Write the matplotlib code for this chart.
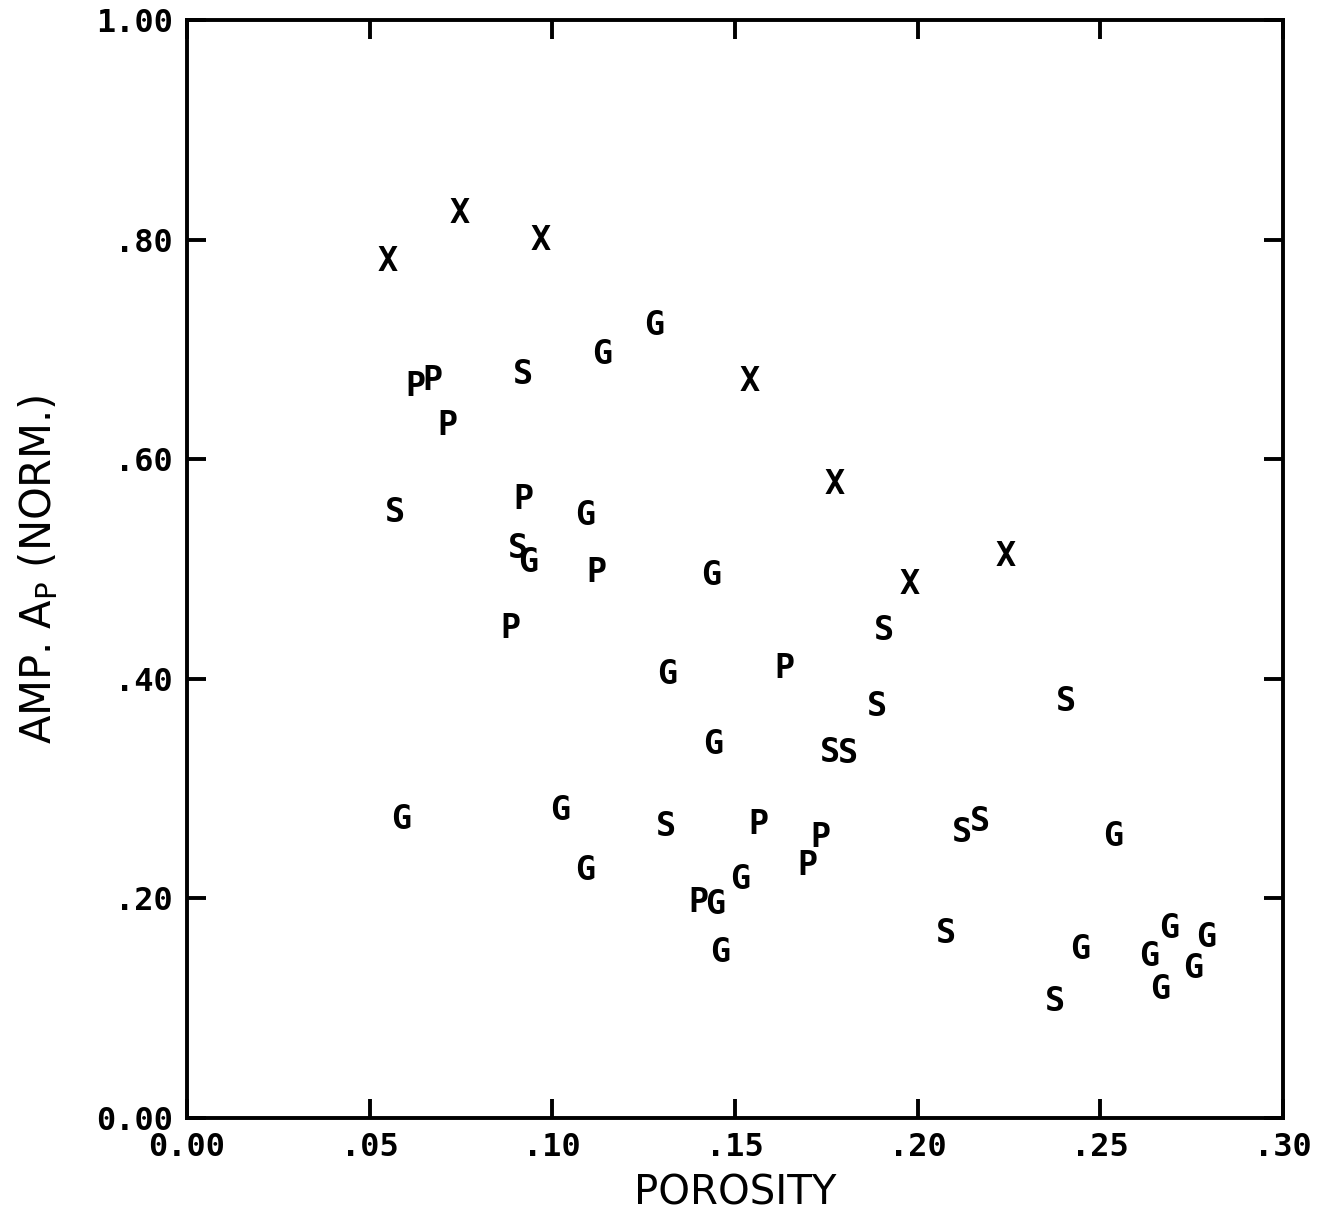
import matplotlib
matplotlib.use("Agg")
import matplotlib.pyplot as plt

# porosity / normalized amplitude, one pair of lists per sample class
x_X = [0.0548, 0.0745, 0.0969, 0.1541, 0.1774, 0.1979, 0.2242]
y_X = [0.780, 0.824, 0.799, 0.671, 0.577, 0.486, 0.511]

x_P = [0.0624, 0.0673, 0.0714, 0.0920, 0.1122, 0.0884, 0.1634, 0.1563, 0.1733, 0.1697, 0.1399]
y_P = [0.666, 0.672, 0.631, 0.563, 0.497, 0.446, 0.409, 0.267, 0.255, 0.230, 0.196]

x_S = [0.0920, 0.0569, 0.0906, 0.1311, 0.1908, 0.1889, 0.1760, 0.1809, 0.2122, 0.2171,
       0.2078, 0.2406, 0.2376]
y_S = [0.677, 0.551, 0.519, 0.265, 0.444, 0.375, 0.333, 0.332, 0.260, 0.270,
       0.168, 0.379, 0.106]

x_G = [0.1278, 0.1136, 0.1090, 0.0933, 0.1434, 0.1314, 0.1440, 0.0586, 0.1021, 0.1090,
       0.1445, 0.1514, 0.1459, 0.2535, 0.2445, 0.2633, 0.2688, 0.2790, 0.2754, 0.2664]
y_G = [0.722, 0.695, 0.549, 0.506, 0.494, 0.404, 0.340, 0.272, 0.280, 0.225,
       0.194, 0.217, 0.151, 0.256, 0.153, 0.147, 0.173, 0.164, 0.136, 0.117]

x_ticks = [0.0, 0.05, 0.10, 0.15, 0.20, 0.25, 0.30]
x_ticklabels = ["0.00", ".05", ".10", ".15", ".20", ".25", ".30"]
y_ticks = [0.0, 0.2, 0.4, 0.6, 0.8, 1.0]
y_ticklabels = ["0.00", ".20", ".40", ".60", ".80", "1.00"]

fig = plt.figure(figsize=(13.33, 12.21), dpi=100)
ax = fig.add_axes([0.1403, 0.0844, 0.8222, 0.8992])

groups = [("X", x_X, y_X), ("P", x_P, y_P), ("S", x_S, y_S), ("G", x_G, y_G)]
for letter, xs, ys in groups:
    for x, y in zip(xs, ys):
        ax.text(x, y, letter, ha="center", va="center", fontsize=24,
                family="DejaVu Sans Mono", fontweight="bold", color="black")

ax.set_xlim(0, 0.30)
ax.set_ylim(0, 1.0)
ax.set_xticks(x_ticks)
ax.set_xticklabels(x_ticklabels)
ax.set_yticks(y_ticks)
ax.set_yticklabels(y_ticklabels)

for s in ax.spines.values():
    s.set_linewidth(2.8)
ax.tick_params(direction="in", length=14, width=2.8, top=True, right=True,
               labelsize=23, pad=10)
for lab in ax.get_xticklabels() + ax.get_yticklabels():
    lab.set_family("DejaVu Sans Mono")
    lab.set_fontweight("bold")

ax.set_xlabel("POROSITY", fontsize=29, labelpad=8)
ax.set_ylabel(r"AMP. A$_{\mathregular{P}}$ (NORM.)", fontsize=30, labelpad=26)

fig.savefig("out.png", dpi=100)
